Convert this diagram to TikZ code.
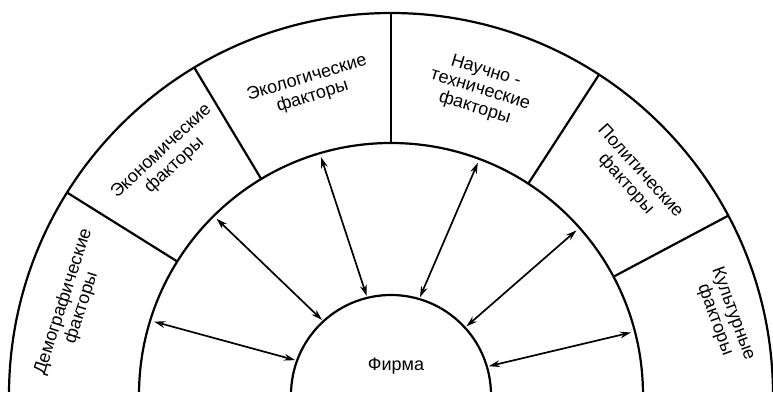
\documentclass[tikz,border=0pt]{standalone}
\usepackage{fontspec}
\setmainfont{Liberation Sans}
\usetikzlibrary{arrows.meta}
\tikzset{
  ring/.style={draw=black,line width=1.1pt},
  divider/.style={draw=black,line width=1.1pt},
  link/.style={{Stealth[length=5.5pt,width=3.4pt]}-{Stealth[length=5.5pt,width=3.4pt]},line width=0.85pt},
  factor/.style={align=center,inner sep=0pt,font=\fontsize{9}{9.6}\selectfont},
}
\begin{document}
\begin{tikzpicture}[x=0.5pt,y=0.5pt]
\useasboundingbox (-391,3) rectangle (382,395);
\clip (-391,3) rectangle (382,395);
% rings
\draw[ring] (382,0) arc[start angle=0,end angle=180,radius=382];
\draw[ring] (252,0) arc[start angle=0,end angle=180,radius=252];
\draw[ring] (0,0) circle[radius=100];
% sector borders
\foreach \a in {28,57,90,121,148}
  \draw[divider] (\a:252) -- (\a:382);
% links between the environment and the firm
\foreach \o/\i [count=\k] in {162.8/160,134.7/132.6,106.4/103.8,69.5/73.5,41.6/42.3,14.6/16.4}{
  \coordinate (out\k) at (\o:248);
  \coordinate (in\k) at (\i:102);
  \draw[link] (out\k) -- (in\k);
}
% factor labels
\node[factor,rotate=72] (demo) at (164.2:331) {Демографические\\факторы};
\node[factor,rotate=43] (econ) at (133.3:325) {Экономические\\факторы};
\node[factor,rotate=17] (ecol) at (104.8:318) {Экологические\\факторы};
\node[factor,rotate=-17] (tech) at (73.7:318) {Научно -\\технические\\факторы};
\node[factor,rotate=-48] (polit) at (41.9:325) {Политические\\факторы};
\node[factor,rotate=-70] (cult) at (13.2:342) {Культурные\\факторы};
\node[factor] (firm) at (5,29) {Фирма};
\end{tikzpicture}
\end{document}
